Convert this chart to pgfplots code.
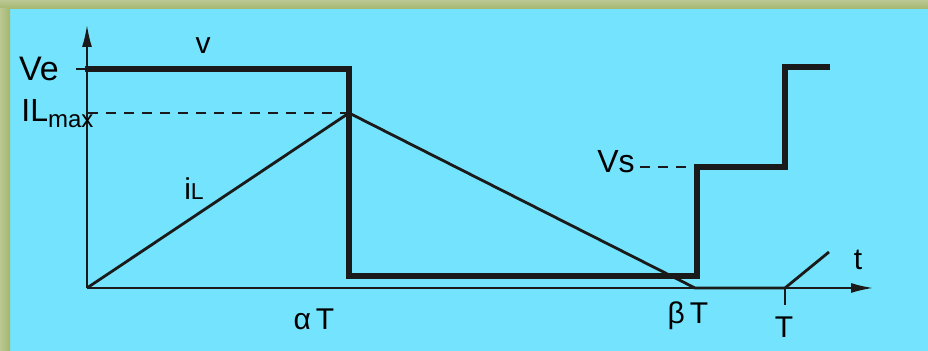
\documentclass[border=0pt]{standalone}
\usepackage{pgfplots}
\pgfplotsset{compat=1.18}
\usepackage{fontspec}
\setmainfont{Liberation Sans}
\usetikzlibrary{arrows.meta}
\definecolor{bgcyan}{HTML}{74E3FD}
\definecolor{olive}{HTML}{A4B66C}
\definecolor{olivelight}{HTML}{BCC894}
\definecolor{ink}{HTML}{1A1A1A}
\begin{document}
\begin{tikzpicture}
\begin{axis}[
  width=464pt, height=175.5pt, scale only axis,
  xmin=0, xmax=928, ymin=0, ymax=351,
  hide axis, clip=false, enlargelimits=false,
]
% background and frame
\fill[bgcyan] (axis cs:0,0) rectangle (axis cs:928,351);
\shade[top color=olivelight, bottom color=olive] (axis cs:0,342) rectangle (axis cs:928,351);
\shade[left color=olivelight, right color=olive] (axis cs:0,0) rectangle (axis cs:10,342);
% axes
\draw[ink, line width=0.85pt, -{Latex[length=11pt,width=5pt]}] (axis cs:87,63) -- (axis cs:873,63);
\draw[ink, line width=0.85pt, -{Latex[length=11pt,width=5pt]}] (axis cs:87,63) -- (axis cs:87,326);
\draw[ink, line width=0.85pt] (axis cs:785,63) -- (axis cs:785,46);
\draw[ink, line width=0.7pt] (axis cs:76,282) -- (axis cs:87,282);
% dashed guides
\addplot[ink, line width=0.6pt, dash pattern=on 5pt off 4pt] coordinates {(88,238) (349,238)};
\addplot[ink, line width=0.6pt, dash pattern=on 5pt off 4pt] coordinates {(640,184) (697,184)};
% voltage v
\addplot[ink, line width=3pt, line join=miter] coordinates {
  (85,282) (349,282) (349,75) (697,75) (697,184) (785,184) (785,284) (830,284)};
% current iL
\addplot[ink, line width=1.4pt] coordinates {
  (87,63) (349,238) (695,63) (785,63) (829,99)};
% labels
\node at (axis cs:39,282) {\fontsize{17}{17}\selectfont Ve};
\node[anchor=base west, inner sep=0pt] at (axis cs:21,229) {\fontsize{16}{16}\selectfont IL\raisebox{-3pt}{\fontsize{12}{12}\selectfont max}};
\node at (axis cs:203,305) {\fontsize{15}{15}\selectfont v};
\node at (axis cs:194,162) {\fontsize{15}{15}\selectfont i\fontsize{11.5}{11.5}\selectfont L};
\node at (axis cs:616,189) {\fontsize{16}{16}\selectfont Vs};
\node at (axis cs:858,91) {\fontsize{15}{15}\selectfont t};
\node at (axis cs:314,32) {\fontsize{15}{15}\selectfont α\,T};
\node at (axis cs:688,35) {\fontsize{15}{15}\selectfont β\,T};
\node at (axis cs:784,24) {\fontsize{15}{15}\selectfont T};
\end{axis}
\end{tikzpicture}
\end{document}
